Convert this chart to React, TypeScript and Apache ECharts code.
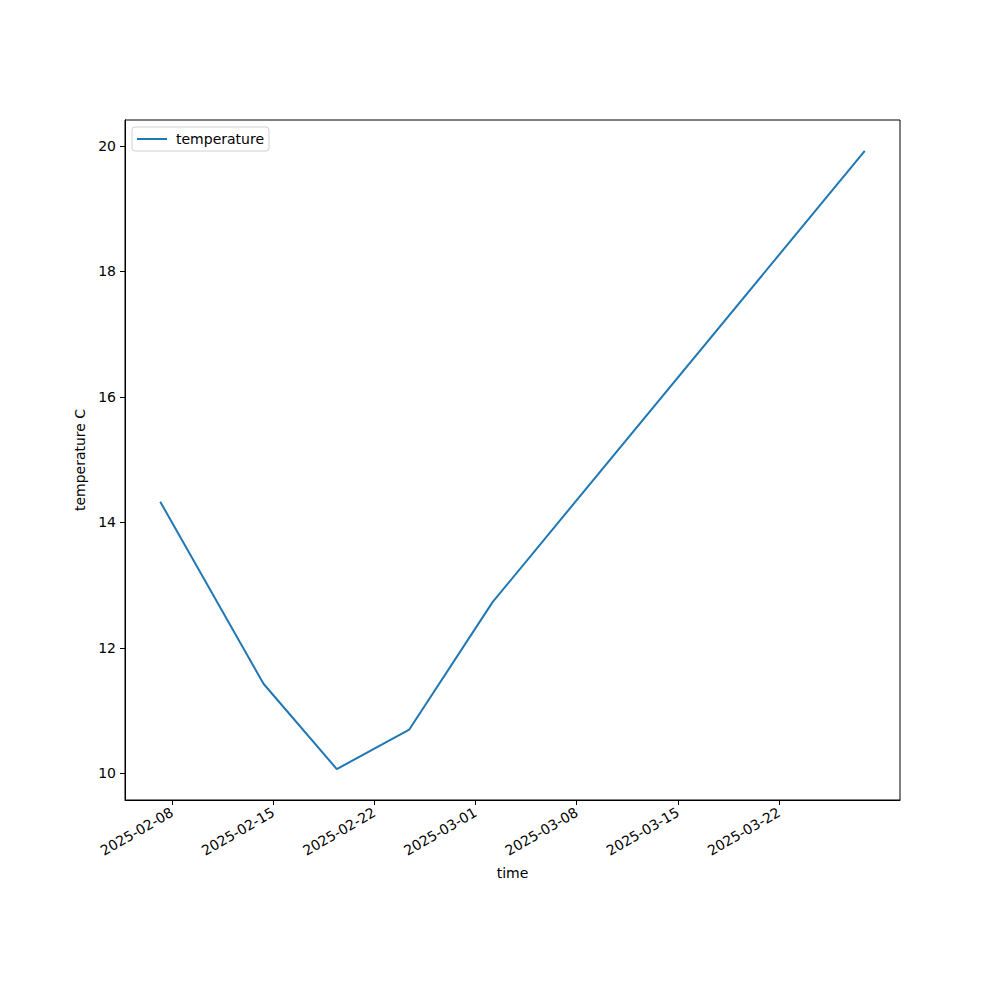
import React, { useEffect, useRef } from "react";
import * as echarts from "echarts";

const times = [
  "2025-02-07T04:30:00Z",
  "2025-02-14T08:00:00Z",
  "2025-02-19T09:40:00Z",
  "2025-02-24T10:00:00Z",
  "2025-03-02T04:20:00Z",
  "2025-03-27T22:20:00Z",
];
const temperatures = [14.33, 11.43, 10.07, 10.7, 12.73, 19.92];
const xTickLabels = [
  "2025-02-08",
  "2025-02-15",
  "2025-02-22",
  "2025-03-01",
  "2025-03-08",
  "2025-03-15",
  "2025-03-22",
];
const yTicks = [10, 12, 14, 16, 18, 20];

const FONT = "DejaVu Sans";

function fmtDate(v: number): string {
  const d = new Date(v);
  const p = (n: number) => (n < 10 ? "0" + n : "" + n);
  return d.getUTCFullYear() + "-" + p(d.getUTCMonth() + 1) + "-" + p(d.getUTCDate());
}

export default function App() {
  const ref = useRef<HTMLDivElement>(null);
  useEffect(() => {
    if (!ref.current) return;
    const chart = echarts.init(ref.current, undefined, { renderer: "svg" });
    const xs = times.map((t) => Date.parse(t));
    const xMinD = Math.min(...xs);
    const xMaxD = Math.max(...xs);
    const xPad = (xMaxD - xMinD) * 0.05;
    const yMinD = Math.min(...temperatures);
    const yMaxD = Math.max(...temperatures);
    const yPad = (yMaxD - yMinD) * 0.05;
    const xTicks = xTickLabels.map((s) => Date.parse(s + "T00:00:00Z"));
    chart.setOption({
      animation: false,
      backgroundColor: "#ffffff",
      textStyle: { fontFamily: FONT },
      grid: {
        left: 125,
        right: 100,
        top: 120,
        bottom: 200,
        show: true,
        borderColor: "#000",
        borderWidth: 1,
        containLabel: false,
      },
      legend: {
        show: true,
        left: 132,
        top: 127,
        orient: "vertical",
        padding: [5, 5, 5, 5],
        borderColor: "#d0d0d0",
        borderWidth: 1,
        borderRadius: 3,
        itemWidth: 30,
        itemHeight: 12,
        textStyle: { fontFamily: FONT, fontSize: 14, color: "#000", padding: [0, 0, 0, 4] },
        data: [{ name: "temperature", icon: "path://M0,0 L30,0 L30,2 L0,2 Z" }],
      },
      xAxis: {
        type: "value",
        min: xMinD - xPad,
        max: xMaxD + xPad,
        name: "time",
        nameLocation: "middle",
        nameGap: 66,
        nameTextStyle: { fontFamily: FONT, fontSize: 14, color: "#000" },
        axisLine: { show: true, onZero: false, lineStyle: { color: "#000", width: 1 } },
        axisTick: { show: true, length: 5, lineStyle: { color: "#000" }, customValues: xTicks },
        axisLabel: {
          show: true,
          rotate: 30,
          margin: 11,
          fontFamily: FONT,
          fontSize: 14,
          color: "#000",
          customValues: xTicks,
          formatter: (v: number) => fmtDate(v),
        },
        splitLine: { show: false },
      },
      yAxis: {
        type: "value",
        min: yMinD - yPad,
        max: yMaxD + yPad,
        name: "temperature C",
        nameLocation: "middle",
        nameGap: 34,
        nameRotate: 90,
        nameTextStyle: { fontFamily: FONT, fontSize: 14, color: "#000" },
        axisLine: { show: true, onZero: false, lineStyle: { color: "#000", width: 1 } },
        axisTick: { show: true, length: 5, lineStyle: { color: "#000" }, customValues: yTicks },
        axisLabel: {
          show: true,
          margin: 9,
          fontFamily: FONT,
          fontSize: 14,
          color: "#000",
          customValues: yTicks,
          formatter: (v: number) => String(Math.round(v)),
        },
        splitLine: { show: false },
      },
      series: [
        {
          name: "temperature",
          type: "line",
          symbol: "none",
          showSymbol: false,
          lineStyle: { color: "#1f77b4", width: 2 },
          itemStyle: { color: "#1f77b4" },
          data: xs.map((x, i) => [x, temperatures[i]]),
        },
      ],
    });
    return () => chart.dispose();
  }, []);
  return (
    <div
      ref={ref}
      style={{ position: "fixed", left: 0, top: 0, width: 1000, height: 1000, background: "#fff" }}
    />
  );
}
